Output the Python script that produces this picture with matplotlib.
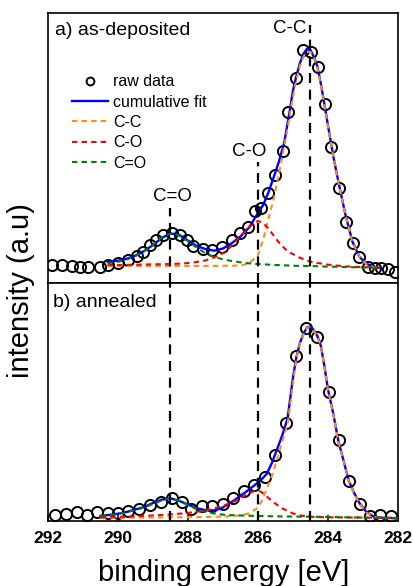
import matplotlib
matplotlib.use("Agg")
import matplotlib.pyplot as plt

plt.rcParams['font.family'] = ['Liberation Sans', 'DejaVu Sans']

# --- a) as-deposited: raw data ---
energy_a = [291.90, 291.61, 291.32, 291.09, 290.85, 290.51, 290.28, 289.99, 289.70, 289.47,
            289.28, 289.09, 288.90, 288.70, 288.47, 288.23, 288.04, 287.85, 287.56, 287.32,
            287.04, 286.75, 286.51, 286.28, 286.09, 285.90, 285.70, 285.51, 285.28, 285.13,
            284.90, 284.70, 284.47, 284.28, 284.09, 283.90, 283.68, 283.49, 283.28, 283.10,
            282.85, 282.66, 282.47, 282.28, 282.09]
counts_a = [18.0, 18.0, 17.3, 16.3, 16.3, 16.3, 18.0, 19.7, 23.0, 27.0,
            31.3, 38.0, 43.0, 48.0, 49.7, 48.0, 43.0, 37.0, 33.7, 33.0,
            36.3, 43.0, 49.7, 56.3, 72.3, 74.7, 89.7, 108.0, 132.3, 171.3,
            204.7, 233.0, 231.3, 216.3, 179.0, 136.3, 94.7, 61.3, 39.7, 26.3,
            16.3, 14.7, 14.7, 13.7, 11.3]

# --- a) fit curves ---
fit_e_a = [290.3, 290.0, 289.75, 289.5, 289.25, 289.0, 288.75, 288.5, 288.25, 288.0,
           287.75, 287.5, 287.25, 287.0, 286.75, 286.5, 286.25, 286.0, 285.85, 285.7,
           285.55, 285.4, 285.25, 285.1, 285.0, 284.9, 284.8, 284.7, 284.6, 284.5,
           284.4, 284.3, 284.2, 284.1, 284.0, 283.85, 283.7, 283.5, 283.3, 283.1,
           282.9, 282.7, 282.5]
cum_a = [21.3, 22.3, 24.3, 27.5, 32.0, 38.0, 45.0, 49.5, 48.2, 42.5,
         37.0, 34.0, 32.3, 34.5, 39.7, 46.5, 55.5, 70.0, 78.0, 90.5,
         105.6, 121.3, 140.0, 170.0, 192.0, 207.0, 219.7, 229.0, 234.0, 233.0,
         226.0, 216.4, 199.0, 179.0, 158.0, 127.5, 101.3, 68.5, 41.5, 26.3,
         19.3, 16.2, 15.0]
cc_a = [17.0, 17.0, 17.0, 17.0, 17.0, 17.0, 17.0, 17.0, 17.0, 17.0,
        17.0, 17.0, 17.0, 17.2, 17.3, 17.5, 19.5, 28.0, 43.0, 64.0,
        84.0, 109.0, 136.0, 165.0, 186.0, 203.0, 217.0, 226.0, 231.0, 231.0,
        225.0, 215.0, 198.0, 178.0, 157.0, 127.0, 100.5, 68.0, 41.0, 26.0,
        19.0, 16.0, 15.0]
co_a = [18.0, 18.0, 18.2, 18.3, 18.5, 18.7, 18.8, 19.0, 19.3, 20.0,
        21.0, 22.5, 25.5, 29.7, 37.0, 47.0, 56.0, 62.0, 60.0, 54.5,
        47.5, 40.5, 35.0, 30.5, 29.0, 27.0, 25.2, 24.0, 22.5, 21.3,
        20.6, 20.0, 19.6, 19.0, 18.3, 17.8, 17.3, 16.7, 16.3, 16.0,
        15.8, 15.5, 15.3]
c_o_a = [19.7, 21.3, 23.5, 27.0, 32.0, 38.0, 45.5, 49.7, 47.5, 42.0,
         35.5, 29.7, 26.0, 23.7, 22.0, 20.7, 19.7, 19.0, 18.7, 18.4,
         18.1, 17.9, 17.7, 17.5, 17.3, 17.2, 17.1, 17.0, 17.0, 17.0,
         16.9, 16.8, 16.7, 16.5, 16.3, 16.3, 16.2, 16.0, 15.8, 15.7,
         15.5, 15.3, 15.3]

# --- b) annealed: raw data ---
energy_b = [291.80, 291.49, 291.18, 290.90, 290.59, 290.28, 289.99, 289.70, 289.40, 289.09,
            288.78, 288.47, 288.18, 287.90, 287.59, 287.30, 287.01, 286.70, 286.40, 286.11,
            285.80, 285.50, 285.20, 284.91, 284.63, 284.32, 283.96, 283.68, 283.39, 283.09,
            282.80, 282.51, 282.21]
counts_b = [6.0, 6.7, 8.7, 6.0, 9.3, 7.7, 8.3, 10.3, 11.7, 16.0,
            19.3, 22.7, 19.3, 11.7, 15.0, 15.0, 17.0, 22.7, 30.3, 36.0,
            44.3, 66.0, 97.7, 165.0, 192.7, 183.7, 129.3, 81.0, 40.3, 17.0,
            5.0, 6.0, 5.0]

# --- b) fit curves ---
fit_e_b = [290.5, 290.25, 290.0, 289.75, 289.5, 289.25, 289.0, 288.75, 288.5, 288.25,
           288.0, 287.75, 287.5, 287.25, 287.0, 286.75, 286.5, 286.25, 286.05, 285.9,
           285.75, 285.6, 285.45, 285.3, 285.15, 285.0, 284.9, 284.8, 284.7, 284.6,
           284.5, 284.4, 284.3, 284.2, 284.1, 284.0, 283.85, 283.7, 283.55, 283.4,
           283.25, 283.1, 282.9, 282.7, 282.5, 282.25, 282.0]
cum_b = [5.0, 6.0, 7.2, 9.0, 11.5, 14.0, 18.0, 21.3, 22.7, 20.0,
         16.5, 12.7, 10.8, 10.5, 13.5, 19.0, 25.0, 31.5, 37.0, 41.5,
         47.0, 58.0, 72.0, 86.0, 103.0, 143.0, 164.0, 178.0, 187.0, 193.5,
         194.5, 191.0, 185.0, 175.0, 155.0, 132.0, 108.0, 80.0, 60.0, 40.0,
         28.0, 18.0, 9.0, 4.5, 3.3, 3.0, 2.7]
cc_b = [3.0, 3.1, 3.2, 3.2, 3.3, 3.4, 3.4, 3.5, 3.6, 3.7,
        3.8, 3.9, 4.0, 4.2, 4.4, 4.8, 5.5, 7.5, 12.0, 19.0,
        32.0, 45.0, 62.0, 80.0, 97.0, 137.0, 163.0, 177.0, 186.5, 193.0,
        194.0, 190.5, 184.5, 174.5, 154.5, 131.5, 107.5, 79.5, 59.5, 39.5,
        27.5, 17.5, 8.5, 4.0, 3.0, 2.7, 2.5]
co_b = [3.5, 3.8, 4.0, 4.3, 4.6, 5.0, 5.5, 6.0, 6.5, 7.2,
        8.0, 9.2, 10.5, 12.5, 15.0, 18.5, 22.5, 28.0, 30.5, 29.0,
        24.5, 20.0, 16.0, 12.5, 10.0, 7.5, 6.5, 5.6, 5.0, 4.5,
        4.2, 4.0, 3.9, 3.8, 3.7, 3.7, 3.6, 3.6, 3.5, 3.5,
        3.4, 3.4, 3.3, 3.3, 3.2, 3.1, 3.0]
c_o_b = [5.0, 6.0, 7.0, 8.8, 11.0, 13.5, 17.0, 20.5, 22.5, 20.0,
         16.0, 11.7, 9.0, 7.5, 6.3, 5.8, 5.5, 5.2, 5.0, 4.9,
         4.8, 4.7, 4.6, 4.5, 4.5, 4.4, 4.4, 4.3, 4.3, 4.3,
         4.2, 4.2, 4.1, 4.1, 4.0, 4.0, 3.9, 3.8, 3.7, 3.6,
         3.5, 3.4, 3.3, 3.1, 3.0, 2.8, 2.7]

# peak positions (eV) and names
peak_pos = [288.5, 286.0, 284.5]
peak_names = ['C=O', 'C-O', 'C-C']
# top of the reference lines in panel a, and label anchors
line_top_a = [75, 121, 258]
label_x = [288.43, 286.26, 285.09]
label_y = [82, 127, 250]

fig = plt.figure(figsize=(4.14, 5.86), dpi=100)
ax_a = fig.add_axes([0.116, 0.517, 0.845, 0.461])
ax_b = fig.add_axes([0.116, 0.111, 0.845, 0.406])

def draw_panel(ax, e, c, fe, cum, cc, co, c_o):
    ax.plot(e, c, 'o', ms=8, mfc='none', mec='black', mew=1.4, label='raw data', zorder=2)
    ax.plot(fe, cum, '-', color='#0000ff', lw=1.7, label='cumulative fit', zorder=3)
    ax.plot(fe, cc, color='#ff8c1a', lw=1.5, dashes=(2.6, 2.0), label='C-C', zorder=4)
    ax.plot(fe, co, color='#ff0000', lw=1.5, dashes=(2.6, 2.0), label='C-O', zorder=4)
    ax.plot(fe, c_o, color='#008000', lw=1.5, dashes=(2.6, 2.0), label='C=O', zorder=4)
    ax.set_xlim(292, 282)
    ax.set_yticks([])
    for s in ax.spines.values():
        s.set_linewidth(1.2)

draw_panel(ax_a, energy_a, counts_a, fit_e_a, cum_a, cc_a, co_a, c_o_a)
draw_panel(ax_b, energy_b, counts_b, fit_e_b, cum_b, cc_b, co_b, c_o_b)

ax_a.set_ylim(0, 270)
ax_b.set_ylim(0, 238)

# dashed reference lines
for x, top in zip(peak_pos, line_top_a):
    ax_a.plot([x, x], [0, top], color='black', lw=1.6, dashes=(4.5, 3.0), zorder=5)
    ax_b.axvline(x, color='black', lw=1.6, dashes=(4.5, 3.0), zorder=5)

for name, x, y in zip(peak_names, label_x, label_y):
    ax_a.text(x, y, name, ha='center', va='baseline', fontsize=13.5)

ax_a.set_xticks([])
ax_b.set_xticks([292, 290, 288, 286, 284, 282])
ax_b.tick_params(axis='x', direction='in', length=4, width=1.1, pad=7,
                 labelsize=12.5)
for lab in ax_b.get_xticklabels():
    lab.set_fontweight('bold')

ax_a.text(0.02, 0.919, 'a) as-deposited', transform=ax_a.transAxes, fontsize=14,
          va='baseline')
ax_b.text(0.015, 0.900, 'b) annealed', transform=ax_b.transAxes, fontsize=14,
          va='baseline')

ax_a.legend(loc='upper left', bbox_to_anchor=(0.069, 0.772), frameon=False,
            fontsize=11.5, handlelength=2.25, handletextpad=0.31, labelspacing=0.33,
            borderpad=0, borderaxespad=0, numpoints=1, markerscale=0.7)

fig.text(0.54, 0.022, 'binding energy [eV]', ha='center', va='center', fontsize=21)
fig.text(0.05, 0.505, 'intensity (a.u)', rotation=90, ha='center', va='center',
         fontsize=21)

fig.savefig('out.png', dpi=100)
